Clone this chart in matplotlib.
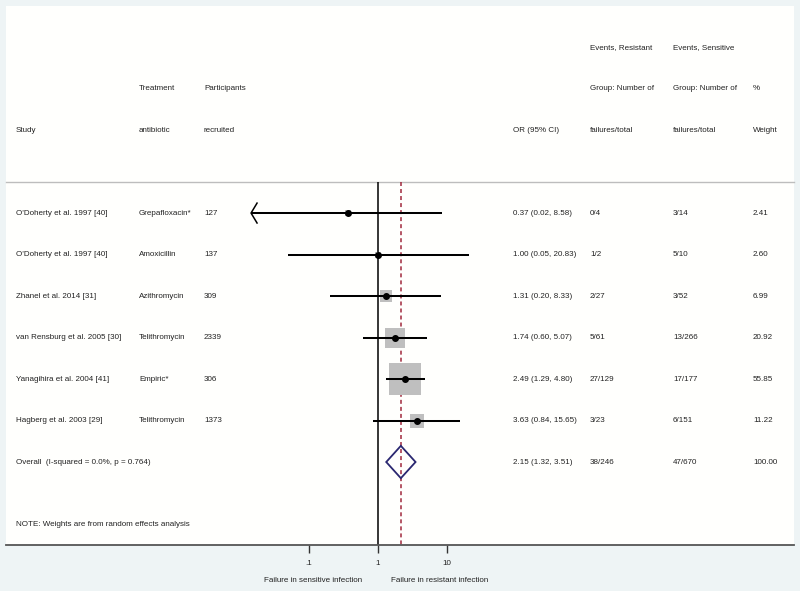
import numpy as np
import matplotlib
matplotlib.use("Agg")
import matplotlib.pyplot as plt
from matplotlib.transforms import blended_transform_factory

plt.rcParams['font.family'] = ['Liberation Sans', 'DejaVu Sans']

# Datos del forest plot
estudios = ["O'Doherty et al. 1997 [40]", "O'Doherty et al. 1997 [40]", "Zhanel et al. 2014 [31]",
            "van Rensburg et al. 2005 [30]", "Yanagihira et al. 2004 [41]", "Hagberg et al. 2003 [29]"]
tratamientos = ["Grepafloxacin*", "Amoxicillin", "Azithromycin", "Telithromycin", "Empiric*", "Telithromycin"]
participantes = [127, 137, 309, 2339, 306, 1373]
or_est = [0.37, 1.00, 1.31, 1.74, 2.49, 3.63]
ic_inf = [0.02, 0.05, 0.20, 0.60, 1.29, 0.84]
ic_sup = [8.58, 20.83, 8.33, 5.07, 4.80, 15.65]
eventos_res = ["0/4", "1/2", "2/27", "5/61", "27/129", "3/23"]
eventos_sen = ["3/14", "5/10", "3/52", "13/266", "17/177", "6/151"]
pesos = [2.41, 2.60, 6.99, 20.92, 55.85, 11.22]
fuera_rango = [True, False, False, False, False, False]  # IC que sale del rango -> flecha

global_or, global_inf, global_sup = 2.15, 1.32, 3.51
global_res, global_sen, global_peso = "38/246", "47/670", "100.00"
global_txt = "Overall  (I-squared = 0.0%, p = 0.764)"
nota = "NOTE: Weights are from random effects analysis"

ticks = [0.1, 1, 10]
tick_labels = [".1", "1", "10"]

# Estilo
FONDO = '#EEF4F5'
PANEL = '#FFFFFD'
TXT = '#222222'
FS = 5.8
x_min = 0.0145  # limite inferior del rango del forest (flecha)

fig = plt.figure(figsize=(8, 5.91), dpi=100, facecolor=FONDO)
ax = fig.add_axes([6/800, 46/591, 788/800, 539/591])
ax.set_facecolor(PANEL)
ax.set_xscale('log')
ax.set_xlim(10**-5.39, 10**6.03)
ax.set_ylim(9.0, -3.99)

for s in ['top', 'left', 'right']:
    ax.spines[s].set_visible(False)
ax.spines['bottom'].set_color('#555555')
ax.spines['bottom'].set_linewidth(1.3)
ax.set_yticks([])
ax.set_xticks(ticks)
ax.set_xticklabels(tick_labels, fontsize=FS, color=TXT)
ax.xaxis.set_minor_locator(matplotlib.ticker.NullLocator())
ax.tick_params(axis='x', length=6, width=1.0, color='#333333', pad=5)

trans = blended_transform_factory(ax.transAxes, ax.transData)

def col(px):
    return (px - 6) / 788

# Cabecera
cab = [
    (16, ["", "", "Study"]),
    (139, ["", "Treatment", "antibiotic"]),
    (204, ["", "Participants", "recruited"]),
    (513, ["", "", "OR (95% CI)"]),
    (590, ["Events, Resistant", "Group: Number of", "failures/total"]),
    (673, ["Events, Sensitive", "Group: Number of", "failures/total"]),
    (753, ["", "%", "Weight"]),
]
for px, lineas in cab:
    for k, t in enumerate(lineas):
        if t:
            ax.text(col(px), -3 + k, t, transform=trans, fontsize=FS, color=TXT, va='center', ha='left')

# Separador
ax.plot([0, 1], [0.25, 0.25], transform=trans, color='#BDBDBD', lw=1.0, clip_on=False)

# Lineas verticales
ax.vlines(1, 0.25, 9.0, color='black', lw=1.1, zorder=2)
ax.vlines(global_or, 0.25, 9.0, color='#A0283C', lw=1.1, linestyles=(0, (2.6, 2.0)), zorder=2)

# Estudios
escala = 530 / max(pesos)
for i in range(len(estudios)):
    y = i + 1
    ax.scatter(or_est[i], y, marker='s', s=pesos[i] * escala, color='#BFBFBF', linewidths=0, zorder=3)
    lo = x_min if fuera_rango[i] else ic_inf[i]
    ax.plot([lo, ic_sup[i]], [y, y], color='black', lw=1.45, zorder=4, solid_capstyle='butt')
    if fuera_rango[i]:
        xa = x_min * 10**(6/69)
        ax.plot([xa, x_min, xa], [y - 0.24, y, y + 0.24], color='black', lw=1.1, zorder=4)
    ax.plot(or_est[i], y, 'o', color='black', ms=4.0, zorder=5)

    ax.text(col(16), y, estudios[i], transform=trans, fontsize=FS, color=TXT, va='center')
    ax.text(col(139), y, tratamientos[i], transform=trans, fontsize=FS, color=TXT, va='center')
    ax.text(col(204), y, str(participantes[i]), transform=trans, fontsize=FS, color=TXT, va='center')
    ax.text(col(513), y, f"{or_est[i]:.2f} ({ic_inf[i]:.2f}, {ic_sup[i]:.2f})", transform=trans,
            fontsize=FS, color=TXT, va='center')
    ax.text(col(590), y, eventos_res[i], transform=trans, fontsize=FS, color=TXT, va='center')
    ax.text(col(673), y, eventos_sen[i], transform=trans, fontsize=FS, color=TXT, va='center')
    ax.text(col(753), y, f"{pesos[i]:.2f}", transform=trans, fontsize=FS, color=TXT, va='center')

# Global
yg = 7
h = 0.39
ax.fill([global_inf, global_or, global_sup, global_or], [yg, yg - h, yg, yg + h],
        facecolor='none', edgecolor='#2A2770', lw=1.3, zorder=5)
ax.text(col(16), yg, global_txt, transform=trans, fontsize=FS, color=TXT, va='center')
ax.text(col(513), yg, f"{global_or:.2f} ({global_inf:.2f}, {global_sup:.2f})", transform=trans,
        fontsize=FS, color=TXT, va='center')
ax.text(col(590), yg, global_res, transform=trans, fontsize=FS, color=TXT, va='center')
ax.text(col(673), yg, global_sen, transform=trans, fontsize=FS, color=TXT, va='center')
ax.text(col(753), yg, global_peso, transform=trans, fontsize=FS, color=TXT, va='center')

ax.text(col(16), 8.5, nota, transform=trans, fontsize=FS, color=TXT, va='center')

# Etiquetas bajo el eje
fig.text(313/800, 1 - 581/591, "Failure in sensitive infection", fontsize=FS, color=TXT, ha='center', va='center')
fig.text(440/800, 1 - 581/591, "Failure in resistant infection", fontsize=FS, color=TXT, ha='center', va='center')

fig.savefig('out.png', dpi=100, facecolor=FONDO)
